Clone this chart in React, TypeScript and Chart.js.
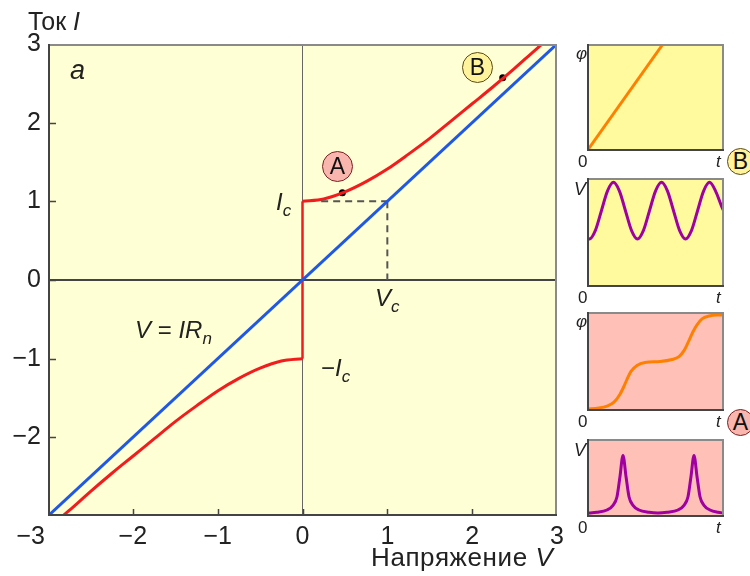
import React, { useEffect, useRef } from "react";
import { Chart, registerables } from "chart.js";
Chart.register(...registerables);

// ---------- main chart data ----------
const xTicks = [-3, -2, -1, 0, 1, 2, 3];
const yTicks = [-3, -2, -1, 0, 1, 2, 3];
const ohmV = [-3, 3];
const ohmI = [-3, 3];
const redNegV = [-3.0, -2.75, -2.5, -2.25, -2.0, -1.75, -1.5, -1.25, -1.0, -0.75, -0.5, -0.25, 0];
const redNegI = [-3.16, -2.93, -2.69, -2.46, -2.24, -2.02, -1.8, -1.6, -1.41, -1.25, -1.12, -1.03, -1.0];
const redJumpV = [0, 0];
const redJumpI = [-1, 1];
const redPosV = [0, 0.25, 0.5, 0.75, 1.0, 1.25, 1.5, 1.75, 2.0, 2.25, 2.5, 2.75, 3.0];
const redPosI = [1.0, 1.03, 1.12, 1.25, 1.41, 1.6, 1.8, 2.02, 2.24, 2.46, 2.69, 2.93, 3.16];
const dashHV = [0.22, 1];
const dashHI = [1, 1];
const dashVV = [1, 1];
const dashVI = [1, 0];
const markV = [0.47, 2.36];
const markI = [1.11, 2.57];

// ---------- small panels data ----------
const phiB_t = [0, 0.555];
const phiB = [0, 1];
const vB_t = [0, 0.1, 0.35, 0.6, 0.85, 1.1, 1.35, 1.6, 1.85, 2.1, 2.35, 2.6, 2.85, 3.1, 3.35, 3.6, 3.85, 4.1, 4.35, 4.6, 4.85, 5.1, 5.35, 5.6, 5.7];
const vB = [0.45, 0.44, 0.52, 0.7, 0.88, 0.96, 0.88, 0.7, 0.52, 0.44, 0.52, 0.7, 0.88, 0.96, 0.88, 0.7, 0.52, 0.44, 0.52, 0.7, 0.88, 0.96, 0.88, 0.74, 0.69];
const phiA_t = [0, 12, 20, 27, 33, 37, 40, 44, 50, 58, 73, 85, 92, 97, 101, 106, 110, 115, 122, 130, 137];
const phiA = [0.02, 0.03, 0.05, 0.09, 0.17, 0.25, 0.32, 0.4, 0.46, 0.49, 0.5, 0.52, 0.55, 0.61, 0.69, 0.8, 0.87, 0.93, 0.96, 0.97, 0.97];
const vA_t = [0, 10, 20, 26, 30, 33, 36, 39, 42, 46, 52, 62, 71, 80, 91, 97, 101, 104, 107, 110, 113, 117, 123, 131, 137];
const vA = [0.05, 0.06, 0.09, 0.15, 0.26, 0.52, 0.79, 0.52, 0.26, 0.15, 0.09, 0.06, 0.05, 0.06, 0.09, 0.15, 0.26, 0.52, 0.79, 0.52, 0.26, 0.15, 0.09, 0.06, 0.05];

const FONT = '"Liberation Sans", Arial, sans-serif';
const RED = "#f21c1c";
const BLUE = "#1f58e6";
const ORANGE = "#ff8000";
const PURPLE = "#a000a0";

const pts = (xs: number[], ys: number[]) => xs.map((x, i) => ({ x, y: ys[i] }));
const fmt = (v: number) => (v < 0 ? "\u2212" + Math.abs(v) : String(v));

const frameTicksPlugin = (bg: string, inner: boolean) => ({
  id: "frame",
  beforeDraw(chart: any) {
    const { ctx, chartArea: a } = chart;
    ctx.save();
    ctx.fillStyle = bg;
    ctx.fillRect(a.left, a.top, a.right - a.left, a.bottom - a.top);
    ctx.restore();
  },
  afterDraw(chart: any) {
    const { ctx, chartArea: a } = chart;
    ctx.save();
    ctx.lineWidth = 2;
    ctx.strokeStyle = "#8a8a8a";
    ctx.beginPath();
    ctx.moveTo(a.left, a.top + 1);
    ctx.lineTo(a.right - 1, a.top + 1);
    ctx.lineTo(a.right - 1, a.bottom);
    ctx.stroke();
    ctx.strokeStyle = "#444";
    ctx.beginPath();
    ctx.moveTo(a.left + 1, a.top);
    ctx.lineTo(a.left + 1, a.bottom - 1);
    ctx.lineTo(a.right, a.bottom - 1);
    ctx.stroke();
    if (inner) {
      const xs = chart.scales.x;
      const ys = chart.scales.y;
      ctx.lineWidth = 1.5;
      ctx.strokeStyle = "#444";
      ctx.beginPath();
      xTicks.forEach((v) => {
        if (v === xs.min || v === xs.max) return;
        const px = Math.round(xs.getPixelForValue(v)) + 0.5;
        ctx.moveTo(px, a.bottom);
        ctx.lineTo(px, a.bottom - 7);
      });
      yTicks.forEach((v) => {
        if (v === ys.min || v === ys.max) return;
        const py = Math.round(ys.getPixelForValue(v)) + 0.5;
        ctx.moveTo(a.left, py);
        ctx.lineTo(a.left + 8, py);
      });
      ctx.stroke();
    }
    ctx.restore();
  },
});

function MainChart() {
  const ref = useRef<HTMLCanvasElement>(null);
  useEffect(() => {
    const line = (xs: number[], ys: number[], color: string, extra: any = {}) => ({
      type: "line",
      data: pts(xs, ys),
      borderColor: color,
      borderWidth: 3,
      pointRadius: 0,
      fill: false,
      cubicInterpolationMode: "monotone",
      ...extra,
    });
    const chart = new Chart(ref.current as HTMLCanvasElement, {
      type: "line",
      data: {
        datasets: [
          line(ohmV, ohmI, BLUE),
          line(dashHV, dashHI, "#555", { borderWidth: 2, borderDash: [7, 5] }),
          line(dashVV, dashVI, "#555", { borderWidth: 2, borderDash: [7, 5] }),
          line(redNegV, redNegI, RED),
          line(redJumpV, redJumpI, RED, { borderWidth: 2.5 }),
          line(redPosV, redPosI, RED),
          {
            type: "scatter",
            data: pts(markV, markI),
            pointRadius: 3.5,
            pointBackgroundColor: "#000",
            pointBorderWidth: 0,
            showLine: false,
          },
        ] as any,
      },
      options: {
        animation: false,
        responsive: false,
        maintainAspectRatio: false,
        layout: { padding: { top: 44, right: 23, left: 0, bottom: 0 } },
        plugins: { legend: { display: false }, tooltip: { enabled: false } },
        scales: {
          x: {
            type: "linear",
            min: -3,
            max: 3,
            afterBuildTicks: (s: any) => {
              s.ticks = xTicks.map((v) => ({ value: v }));
            },
            afterFit: (s: any) => {
              s.height = 60;
            },
            border: { display: false },
            grid: {
              drawTicks: false,
              color: (c: any) => (c.tick && c.tick.value === 0 ? "#666" : "rgba(0,0,0,0)"),
              lineWidth: 1,
            },
            ticks: {
              padding: 6,
              color: "#222",
              font: { family: FONT, size: 25 },
              maxRotation: 0,
              // the leftmost label sits left of the corner, as in the original
              callback: (v: any) => (Number(v) === -3 ? fmt(-3) + "     " : fmt(Number(v))),
            },
          },
          y: {
            type: "linear",
            min: -3,
            max: 3,
            afterBuildTicks: (s: any) => {
              s.ticks = yTicks.map((v) => ({ value: v }));
            },
            afterFit: (s: any) => {
              s.width = 48;
            },
            border: { display: false },
            grid: {
              drawTicks: false,
              color: (c: any) => (c.tick && c.tick.value === 0 ? "#444" : "rgba(0,0,0,0)"),
              lineWidth: 2,
            },
            ticks: {
              padding: 7,
              color: "#222",
              font: { family: FONT, size: 25 },
              callback: (v: any) => (Number(v) === -3 ? "" : fmt(Number(v))),
            },
          },
        },
      } as any,
      plugins: [frameTicksPlugin("#ffffd6", true)],
    });
    return () => chart.destroy();
  }, []);
  return (
    <canvas
      ref={ref}
      width={580}
      height={576}
      style={{ position: "absolute", left: 0, top: 0, width: 580, height: 576 }}
    />
  );
}

function Panel(props: {
  left: number;
  top: number;
  width: number;
  height: number;
  bg: string;
  color: string;
  ts: number[];
  vs: number[];
  tMax: number;
}) {
  const ref = useRef<HTMLCanvasElement>(null);
  useEffect(() => {
    const chart = new Chart(ref.current as HTMLCanvasElement, {
      type: "line",
      data: {
        datasets: [
          {
            data: pts(props.ts, props.vs),
            borderColor: props.color,
            borderWidth: 3,
            pointRadius: 0,
            fill: false,
            cubicInterpolationMode: "monotone",
          },
        ] as any,
      },
      options: {
        animation: false,
        responsive: false,
        maintainAspectRatio: false,
        layout: { padding: 0 },
        plugins: { legend: { display: false }, tooltip: { enabled: false } },
        scales: {
          x: { type: "linear", min: 0, max: props.tMax, display: false },
          y: { type: "linear", min: 0, max: 1, display: false },
        },
      } as any,
      plugins: [frameTicksPlugin(props.bg, false)],
    });
    return () => chart.destroy();
  }, []);
  return (
    <canvas
      ref={ref}
      width={props.width}
      height={props.height}
      style={{ position: "absolute", left: props.left, top: props.top, width: props.width, height: props.height }}
    />
  );
}

function T(props: { left: number; top: number; size?: number; children: any; style?: any }) {
  return (
    <div
      style={{
        position: "absolute",
        left: props.left,
        top: props.top,
        fontFamily: FONT,
        fontSize: props.size || 24,
        lineHeight: 1,
        color: "#222",
        whiteSpace: "nowrap",
        ...(props.style || {}),
      }}
    >
      {props.children}
    </div>
  );
}

function Circ(props: { cx: number; cy: number; r: number; label: string; bg: string; border: string }) {
  return (
    <div
      style={{
        position: "absolute",
        left: props.cx - props.r,
        top: props.cy - props.r,
        width: props.r * 2 - 3,
        height: props.r * 2 - 3,
        borderRadius: "50%",
        border: "1.5px solid " + props.border,
        background: props.bg,
        fontFamily: FONT,
        fontSize: 23,
        lineHeight: props.r * 2 - 3 + "px",
        textAlign: "center",
        color: "#111",
      }}
    >
      {props.label}
    </div>
  );
}

const Sub = (p: { children: any; size?: number }) => (
  <span style={{ fontSize: p.size || 17, position: "relative", top: 6, fontStyle: "italic" }}>{p.children}</span>
);

export default function App() {
  return (
    <div style={{ position: "absolute", left: 0, top: 0, width: 750, height: 576, background: "#fff", overflow: "hidden" }}>
      <MainChart />
      <Panel left={587} top={44} width={137} height={107} bg="#fffa9e" color={ORANGE} ts={phiB_t} vs={phiB} tMax={1} />
      <Panel left={587} top={178} width={137} height={109} bg="#fffa9e" color={PURPLE} ts={vB_t} vs={vB} tMax={5.7} />
      <Panel left={587} top={312} width={137} height={99} bg="#ffc0b8" color={ORANGE} ts={phiA_t} vs={phiA} tMax={137} />
      <Panel left={587} top={439} width={137} height={78} bg="#ffc0b8" color={PURPLE} ts={vA_t} vs={vA} tMax={137} />

      <T left={28} top={9} size={25}>
        Ток <i>I</i>
      </T>
      <T left={70} top={57} size={27}>
        <i>a</i>
      </T>
      <T left={371} top={544} size={26} style={{ letterSpacing: "0.6px" }}>
        Напряжение <i>V</i>
      </T>
      <T left={276} top={190}>
        <i>I</i>
        <Sub>c</Sub>
      </T>
      <T left={375} top={286}>
        <i>V</i>
        <Sub>c</Sub>
      </T>
      <T left={321} top={356}>
        {"\u2212"}
        <i>I</i>
        <Sub>c</Sub>
      </T>
      <T left={135} top={318}>
        <i>V</i> = <i>IR</i>
        <Sub>n</Sub>
      </T>

      <Circ cx={338} cy={167} r={16} label="A" bg="#f9b6ae" border="#7a2020" />
      <Circ cx={478} cy={68} r={16} label="B" bg="#fff39c" border="#5a4a10" />
      <Circ cx={741} cy={162} r={14} label="B" bg="#fff39c" border="#5a4a10" />
      <Circ cx={741} cy={423} r={14} label="A" bg="#f9b6ae" border="#7a2020" />

      <T left={576} top={45} size={17}><i>φ</i></T>
      <T left={578} top={153} size={17}>0</T>
      <T left={716} top={153} size={17}><i>t</i></T>

      <T left={574} top={180} size={18}><i>V</i></T>
      <T left={578} top={289} size={17}>0</T>
      <T left={716} top={289} size={17}><i>t</i></T>

      <T left={576} top={313} size={17}><i>φ</i></T>
      <T left={578} top={413} size={17}>0</T>
      <T left={716} top={413} size={17}><i>t</i></T>

      <T left={574} top={441} size={18}><i>V</i></T>
      <T left={578} top={519} size={17}>0</T>
      <T left={716} top={519} size={17}><i>t</i></T>
    </div>
  );
}
